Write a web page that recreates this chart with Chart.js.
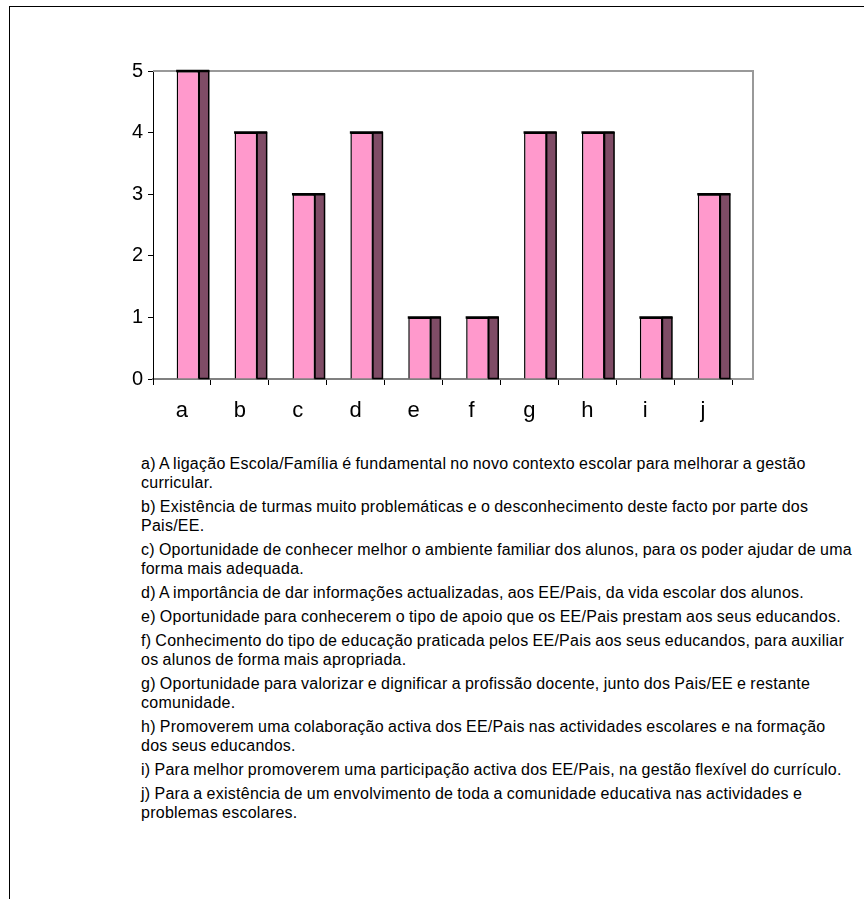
<!DOCTYPE html>
<html lang="pt">
<head>
<meta charset="utf-8">
<title>Razões apontadas</title>
<script src="https://cdn.jsdelivr.net/npm/chart.js@4/dist/chart.umd.min.js"></script>
<style>
  html, body { margin: 0; padding: 0; background: #fff; }
  body { width: 864px; height: 899px; position: relative; overflow: hidden; font-family: "Liberation Sans", Arial, sans-serif; }
  #frame { position: absolute; left: 9px; top: 6px; width: 900px; height: 900px; border-top: 1px solid #000; border-left: 1px solid #000; }
  #chartBox { position: absolute; left: 0; top: 0; width: 864px; height: 440px; }
  #notes { position: absolute; left: 141px; top: 454px; font-size: 16px; letter-spacing: 0.25px; word-spacing: -0.6px; line-height: 19px; color: #000; white-space: nowrap; }
  #notes p { margin: 0 0 5px 0; }
</style>
</head>
<body>
<div id="frame"></div>
<div id="chartBox"><canvas id="chart"></canvas></div>
<div id="notes"></div>
<script>
// Categories and their counts
const categories = ['a', 'b', 'c', 'd', 'e', 'f', 'g', 'h', 'i', 'j'];
const counts = [5, 4, 3, 4, 1, 1, 4, 4, 1, 3];
const yTickValues = [0, 1, 2, 3, 4, 5];

// Explanatory notes under the chart, one array of lines per item
const notes = [
  ['a) A ligação Escola/Família é fundamental no novo contexto escolar para melhorar a gestão', 'curricular.'],
  ['b) Existência de turmas muito problemáticas e o desconhecimento deste facto por parte dos', 'Pais/EE.'],
  ['c) Oportunidade de conhecer melhor o ambiente familiar dos alunos, para os poder ajudar de uma', 'forma mais adequada.'],
  ['d) A importância de dar informações actualizadas, aos EE/Pais, da vida escolar dos alunos.'],
  ['e) Oportunidade para conhecerem o tipo de apoio que os EE/Pais prestam aos seus educandos.'],
  ['f) Conhecimento do tipo de educação praticada pelos EE/Pais aos seus educandos, para auxiliar', 'os alunos de forma mais apropriada.'],
  ['g) Oportunidade para valorizar e dignificar a profissão docente, junto dos Pais/EE e restante', 'comunidade.'],
  ['h) Promoverem uma colaboração activa dos EE/Pais nas actividades escolares e na formação', 'dos seus educandos.'],
  ['i) Para melhor promoverem uma participação activa dos EE/Pais, na gestão flexível do currículo.'],
  ['j) Para a existência de um envolvimento de toda a comunidade educativa nas actividades e', 'problemas escolares.']
];

const notesEl = document.getElementById('notes');
notes.forEach(lines => {
  const p = document.createElement('p');
  lines.forEach((line, i) => {
    if (i) p.appendChild(document.createElement('br'));
    p.appendChild(document.createTextNode(line));
  });
  notesEl.appendChild(p);
});

const FRONT = '#FF99CC';
const SIDE = '#7F4C66';
const SHIFT = 6;    // front faces sit slightly right of the category centre
const DEPTH = 9.5;  // width of the shaded side face
const WALL = 21;    // horizontal depth of the back wall

// Gray outline of the back wall (top, right and the bottom extension)
const wallPlugin = {
  id: 'wall',
  beforeDatasetsDraw(chart) {
    const { ctx, chartArea: a } = chart;
    ctx.save();
    ctx.strokeStyle = '#999999';
    ctx.lineWidth = 2;
    ctx.beginPath();
    ctx.moveTo(a.left, a.top);
    ctx.lineTo(a.right + WALL, a.top);
    ctx.lineTo(a.right + WALL, a.bottom);
    ctx.lineTo(a.right, a.bottom);
    ctx.stroke();
    ctx.restore();
  }
};

// Draws columns shifted right and adds the darker side face of each one
const depthPlugin = {
  id: 'columnDepth',
  beforeDatasetsDraw(chart) {
    chart.ctx.save();
    chart.ctx.translate(SHIFT, 0);
  },
  afterDatasetsDraw(chart) {
    const ctx = chart.ctx;
    const meta = chart.getDatasetMeta(0);
    meta.data.forEach(bar => {
      const { x, y, base, width } = bar.getProps(['x', 'y', 'base', 'width'], true);
      const left = x - width / 2;
      const right = x + width / 2;
      ctx.fillStyle = SIDE;
      ctx.fillRect(right, y, DEPTH, base - y);
      ctx.strokeStyle = '#000';
      ctx.lineWidth = 1.5;
      ctx.strokeRect(right, y, DEPTH, base - y);
      ctx.lineWidth = 2.5;
      ctx.beginPath();
      ctx.moveTo(left - 0.5, y);
      ctx.lineTo(right + DEPTH + 0.5, y);
      ctx.stroke();
    });
    ctx.restore();
  }
};

new Chart(document.getElementById('chart'), {
  type: 'bar',
  data: {
    labels: categories,
    datasets: [{
      data: counts,
      backgroundColor: FRONT,
      borderColor: '#000',
      borderWidth: 1.5,
      borderSkipped: 'start',
      categoryPercentage: 1,
      barPercentage: 0.39
    }]
  },
  options: {
    responsive: true,
    maintainAspectRatio: false,
    animation: false,
    layout: { padding: { left: 103, top: 71, right: 132, bottom: 1 } },
    plugins: { legend: { display: false }, tooltip: { enabled: false } },
    scales: {
      x: {
        offset: true,
        afterFit(scale) { scale.height = 60; },
        grid: { offset: true, drawOnChartArea: false, tickLength: 6, color: '#000', lineWidth: 1 },
        border: { color: '#808080', width: 2 },
        ticks: { color: '#000', font: { family: 'Liberation Sans, Arial, sans-serif', size: 22 }, padding: 13 }
      },
      y: {
        min: 0,
        max: 5,
        afterFit(scale) { scale.width = 50; },
        afterBuildTicks(scale) { scale.ticks = yTickValues.map(v => ({ value: v })); },
        grid: { drawOnChartArea: false, tickLength: 5, color: '#000', lineWidth: 1 },
        border: { color: '#000', width: 1 },
        ticks: { color: '#000', font: { family: 'Liberation Sans, Arial, sans-serif', size: 20 }, padding: 5 }
      }
    }
  },
  plugins: [wallPlugin, depthPlugin]
});
</script>
</body>
</html>
